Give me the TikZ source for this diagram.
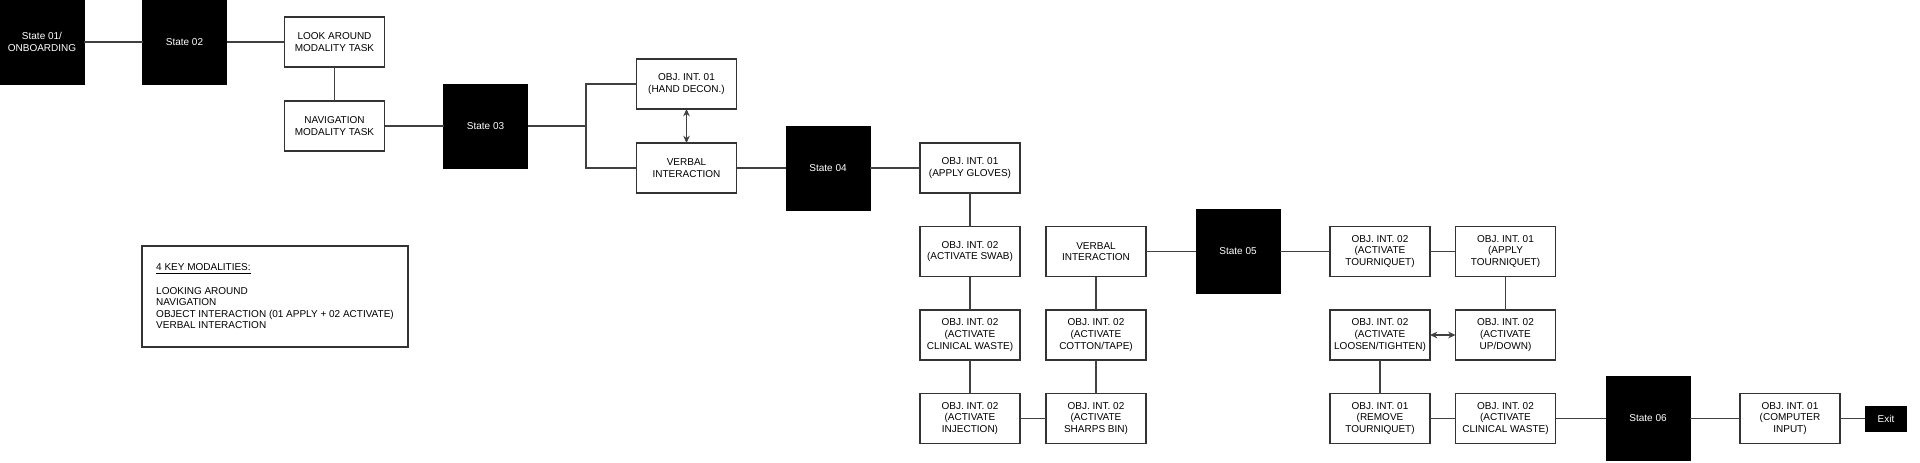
\documentclass[tikz,border=0pt]{standalone}
\usepackage{fontspec}
\setmainfont{Liberation Sans}
\usetikzlibrary{arrows.meta}

\begin{document}
\begin{tikzpicture}[x=0.75pt, y=-0.75pt,
    every node/.style={font=\fontsize{7.5pt}{8.7pt}\selectfont, align=center, inner sep=0pt, outer sep=0pt},
    state/.style={fill=black, draw=black, text=white, minimum width=63pt, minimum height=63pt},
    task/.style={draw=black!80, line width=0.8pt, fill=white, minimum width=75pt, minimum height=37.5pt},
    endbox/.style={fill=black, text=white, minimum width=31.5pt, minimum height=19.5pt},
    legendbox/.style={draw=black!80, line width=0.8pt, minimum width=199.5pt, minimum height=75.75pt, align=left},
    link/.style={draw=black!75, line width=0.8pt},
    twoway/.style={link, {Stealth[length=5.5pt,width=5pt]}-{Stealth[length=5.5pt,width=5pt]}}]

    \useasboundingbox (0,0) rectangle (1920,462);

    \node[state] (s1) at (42,42) {State 01/\\ONBOARDING};
    \node[state] (s2) at (184.5,42) {State 02};
    \node[task] (look) at (334.5,42) {LOOK AROUND\\MODALITY TASK};
    \node[task] (nav) at (334.5,126) {NAVIGATION\\MODALITY TASK};
    \node[state] (s3) at (485.5,126) {State 03};
    \coordinate (fork) at (586,126);
    \node[task] (hand) at (686.5,84) {OBJ. INT. 01\\(HAND DECON.)};
    \node[task] (verbal1) at (686.5,168) {VERBAL\\INTERACTION};
    \node[state] (s4) at (828,168) {State 04};

    \node[task] (gloves) at (970,168) {OBJ. INT. 01\\(APPLY GLOVES)};
    \node[task] (swab) at (970,251.5) {OBJ. INT. 02\\(ACTIVATE SWAB)};
    \node[task] (waste1) at (970,335) {OBJ. INT. 02\\(ACTIVATE\\CLINICAL WASTE)};
    \node[task] (inject) at (970,418.5) {OBJ. INT. 02\\(ACTIVATE\\INJECTION)};
    \node[task] (sharps) at (1096,418.5) {OBJ. INT. 02\\(ACTIVATE\\SHARPS BIN)};
    \node[task] (cotton) at (1096,335) {OBJ. INT. 02\\(ACTIVATE\\COTTON/TAPE)};
    \node[task] (verbal2) at (1096,251.5) {VERBAL\\INTERACTION};
    \node[state] (s5) at (1238,251.5) {State 05};

    \node[task] (acttq) at (1380,251.5) {OBJ. INT. 02\\(ACTIVATE\\TOURNIQUET)};
    \node[task] (applytq) at (1505.5,251.5) {OBJ. INT. 01\\(APPLY\\TOURNIQUET)};
    \node[task] (updown) at (1505.5,335) {OBJ. INT. 02\\(ACTIVATE\\UP/DOWN)};
    \node[task] (loosen) at (1380,335) {OBJ. INT. 02\\(ACTIVATE\\LOOSEN/TIGHTEN)};
    \node[task] (remove) at (1380,418.5) {OBJ. INT. 01\\(REMOVE\\TOURNIQUET)};
    \node[task] (waste2) at (1505.5,418.5) {OBJ. INT. 02\\(ACTIVATE\\CLINICAL WASTE)};
    \node[state] (s6) at (1648,418.5) {State 06};
    \node[task] (computer) at (1790,418.5) {OBJ. INT. 01\\(COMPUTER\\INPUT)};
    \node[endbox] (exit) at (1886,418.5) {Exit};

    \node[legendbox] (legend) at (275,296.5) {\underline{4 KEY MODALITIES:}\\[8.7pt]LOOKING AROUND\\NAVIGATION\\OBJECT INTERACTION (01 APPLY + 02 ACTIVATE)\\VERBAL INTERACTION};

    \draw[link] (s1) -- (s2) -- (look) -- (nav) -- (s3) -- (fork);
    \draw[link] (fork) |- (hand.west);
    \draw[link] (fork) |- (verbal1.west);
    \draw[twoway] (hand) -- (verbal1);
    \draw[link] (verbal1) -- (s4) -- (gloves) -- (swab) -- (waste1) -- (inject) -- (sharps) -- (cotton) -- (verbal2) -- (s5);
    \draw[link] (s5) -- (acttq) -- (applytq) -- (updown);
    \draw[twoway] (updown) -- (loosen);
    \draw[link] (loosen) -- (remove) -- (waste2) -- (s6) -- (computer) -- (exit);
\end{tikzpicture}
\end{document}
